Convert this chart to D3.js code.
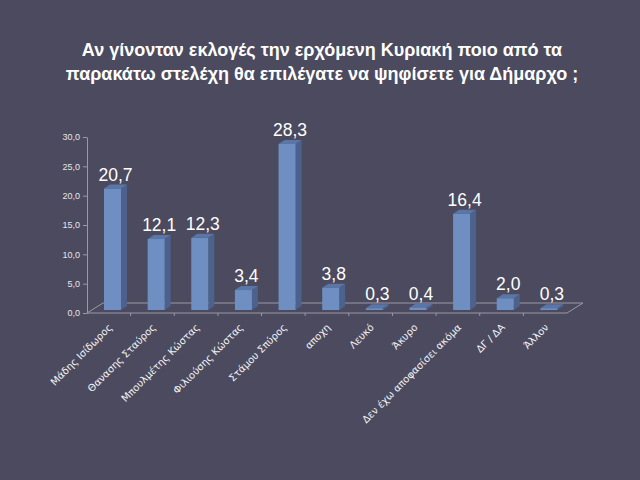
<!DOCTYPE html>
<html><head><meta charset="utf-8">
<script src="https://cdn.jsdelivr.net/npm/d3@7"></script>
<style>
html,body{margin:0;padding:0;background:#4b4a5e;}
svg{display:block;}
</style></head>
<body>
<svg id="chart" width="640" height="480"></svg>
<script>
const titleLines = ["Αν γίνονταν εκλογές την ερχόμενη Κυριακή ποιο από τα",
                    "παρακάτω στελέχη θα επιλέγατε να ψηφίσετε για Δήμαρχο ;"];
const categories = ["Μάδης Ισίδωρος","Θανασης Σταύρος","Μπουλμέτης Κώστας","Φιλιούσης Κώστας",
  "Στάμου Σπύρος","αποχη","Λευκό","Άκυρο","Δεν έχω αποφασίσει ακόμα","ΔΓ / ΔΑ","Άλλον"];
const values = [20.7, 12.1, 12.3, 3.4, 28.3, 3.8, 0.3, 0.4, 16.4, 2.0, 0.3];
const yTicks = [0, 5, 10, 15, 20, 25, 30];

(function(){
const svg = d3.select("#chart");
const bg = "#4b4a5e";
svg.append("rect").attr("width",640).attr("height",480).attr("fill",bg);

const font = "'Liberation Sans', Arial, sans-serif";
const fmt = v => v.toFixed(1).replace(".", ",");

// title
svg.append("g").selectAll("text").data(titleLines).join("text")
  .attr("x", 322).attr("y", (d,i)=>56 + i*24)
  .attr("text-anchor","middle").attr("fill","#ffffff")
  .attr("font-family", font).attr("font-weight","bold").attr("font-size", 18)
  .text(d=>d);

const pLeft = 87, pRight = 567, pBottom = 313, pTop = 137;
const depthX = 16, depthY = -10;
const x = d3.scaleBand().domain(categories).range([pLeft, pRight]).padding(0);
const y = d3.scaleLinear().domain([0, 30]).range([pBottom, pTop]);

const axisColor = "#9a99a6";
// floor
const floor = svg.append("g").attr("stroke", axisColor).attr("stroke-width",1).attr("fill","none");
floor.append("path").attr("d",
  `M${pLeft},${pBottom} L${pLeft+depthX},${pBottom+depthY} L${pRight+depthX},${pBottom+depthY} L${pRight},${pBottom} Z`);
// y axis
const yAxis = d3.axisLeft(y).tickValues(yTicks).tickFormat(fmt).tickSize(4).tickSizeOuter(0);
const gy = svg.append("g").attr("transform",`translate(${pLeft},0)`).call(yAxis);
gy.select(".domain").attr("stroke", axisColor);
gy.selectAll(".tick line").attr("stroke", axisColor);
gy.selectAll(".tick text").attr("fill","#e6e6ea").attr("font-family",font).attr("font-size",9);

// x labels
const xAxis = d3.axisBottom(x).tickSize(0).tickFormat(d=>d);
const gx = svg.append("g").attr("transform",`translate(0,${pBottom})`).call(xAxis);
gx.select(".domain").remove();
gx.selectAll(".tick text")
  .attr("fill","#f4f4f8").attr("font-family","'DejaVu Sans', Verdana, sans-serif").attr("font-size",10)
  .attr("text-anchor","end").attr("dy",null).attr("y",0)
  .attr("transform","translate(4,15) rotate(-45)");
// tick marks at band boundaries
svg.append("g").selectAll("line").data(categories.slice(1)).join("line")
  .attr("x1", d=>x(d)).attr("x2", d=>x(d))
  .attr("y1", pBottom).attr("y2", pBottom+3)
  .attr("stroke", axisColor);

// bars (pseudo-3D)
const bw = x.bandwidth()*0.39, bdx = 6, bdy = -4, shiftY = -3;
const bars = svg.append("g").selectAll("g").data(categories).join("g");
bars.each(function(c, i){
  const g = d3.select(this);
  const x0 = x(c) + x.bandwidth()*0.39;
  const yb = y(0) + shiftY, yt = y(values[i]) + shiftY;
  g.append("path").attr("d",
    `M${x0+bw},${yt} L${x0+bw+bdx},${yt+bdy} L${x0+bw+bdx},${yb+bdy} L${x0+bw},${yb} Z`)
    .attr("fill","#4c628c");
  g.append("path").attr("d",
    `M${x0},${yt} L${x0+bdx},${yt+bdy} L${x0+bw+bdx},${yt+bdy} L${x0+bw},${yt} Z`)
    .attr("fill","#5a76a6");
  g.append("rect").attr("x",x0).attr("y",yt).attr("width",bw).attr("height",Math.max(0,yb-yt))
    .attr("fill","#6f8fc3");
  g.append("text").attr("x", x0 + (bw+bdx)/2).attr("y", yt + bdy - 4)
    .attr("text-anchor","middle").attr("fill","#ffffff")
    .attr("font-family",font).attr("font-size",17.5)
    .text(fmt(values[i]));
});
})();
</script>
</body></html>
